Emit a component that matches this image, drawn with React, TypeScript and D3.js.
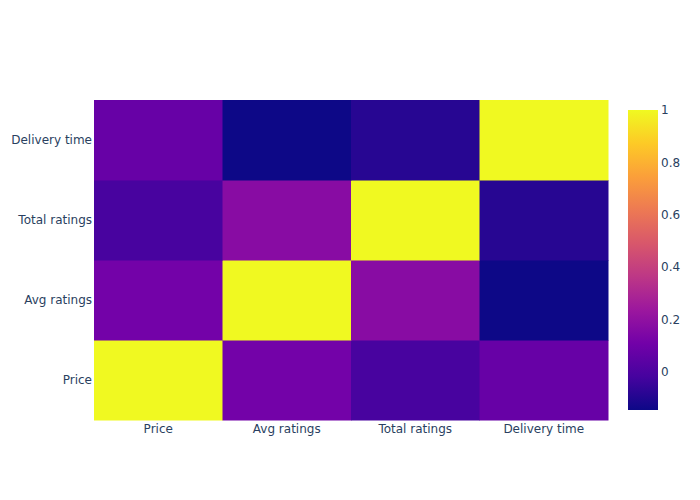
import { useEffect, useRef } from "react";
import * as d3 from "d3";

const labels = ["Price", "Avg ratings", "Total ratings", "Delivery time"];

// correlation rows, in the same order as labels
const priceRow = [1, 0.112, -0.014, 0.077];
const avgRow = [0.112, 1, 0.175, -0.146];
const totalRow = [-0.014, 0.175, 1, -0.089];
const deliveryRow = [0.077, -0.146, -0.089, 1];
const rows = [priceRow, avgRow, totalRow, deliveryRow];

const colorTicks = [0, 0.2, 0.4, 0.6, 0.8, 1];

const plasma = [
  "#0d0887", "#46039f", "#7201a8", "#9c179e", "#bd3786",
  "#d8576b", "#ed7953", "#fb9f3a", "#fdca26", "#f0f921",
];

export default function App() {
  const svgRef = useRef<SVGSVGElement>(null);

  useEffect(() => {
    const svg = d3.select(svgRef.current);
    svg.selectAll("*").remove();

    const W = 700, H = 500;
    const m = { left: 94, right: 92, top: 100, bottom: 80 };
    const font = '"DejaVu Sans", verdana, arial, sans-serif';
    const textColor = "#2a3f5f";

    const flat = rows.flat();
    const zmin = d3.min(flat)!;
    const zmax = d3.max(flat)!;

    const x = d3.scaleBand<string>().domain(labels).range([m.left, W - m.right]);
    const y = d3.scaleBand<string>().domain(labels).range([H - m.bottom, m.top]);

    const color = d3
      .scaleLinear<string>()
      .domain(plasma.map((_, i) => zmin + (i / (plasma.length - 1)) * (zmax - zmin)))
      .range(plasma)
      .interpolate(d3.interpolateRgb);

    const cells = rows.flatMap((row, i) =>
      row.map((v, j) => ({ r: labels[i], c: labels[j], v }))
    );

    svg.append("g")
      .selectAll("rect")
      .data(cells)
      .join("rect")
      .attr("x", (d) => x(d.c)!)
      .attr("y", (d) => y(d.r)!)
      .attr("width", x.bandwidth() + 0.5)
      .attr("height", y.bandwidth() + 0.5)
      .attr("fill", (d) => color(d.v));

    // x labels
    svg.append("g")
      .selectAll("text")
      .data(labels)
      .join("text")
      .attr("x", (d) => x(d)! + x.bandwidth() / 2)
      .attr("y", H - m.bottom + 13)
      .attr("text-anchor", "middle")
      .attr("font-family", font)
      .attr("font-size", 12)
      .attr("fill", textColor)
      .text((d) => d);

    // y labels
    svg.append("g")
      .selectAll("text")
      .data(labels)
      .join("text")
      .attr("x", m.left - 2)
      .attr("y", (d) => y(d)! + y.bandwidth() / 2)
      .attr("dy", "0.35em")
      .attr("text-anchor", "end")
      .attr("font-family", font)
      .attr("font-size", 12)
      .attr("fill", textColor)
      .text((d) => d);

    // colorbar
    const cbX = 628, cbW = 30, cbTop = 110, cbBottom = 410;
    const cb = d3.scaleLinear().domain([zmin, zmax]).range([cbBottom, cbTop]);

    const grad = svg.append("defs")
      .append("linearGradient")
      .attr("id", "cbgrad")
      .attr("x1", 0).attr("y1", 1).attr("x2", 0).attr("y2", 0);
    grad.selectAll("stop")
      .data(plasma)
      .join("stop")
      .attr("offset", (_, i) => i / (plasma.length - 1))
      .attr("stop-color", (d) => d);

    svg.append("rect")
      .attr("x", cbX)
      .attr("y", cbTop)
      .attr("width", cbW)
      .attr("height", cbBottom - cbTop)
      .attr("fill", "url(#cbgrad)");

    svg.append("g")
      .selectAll("text")
      .data(colorTicks)
      .join("text")
      .attr("x", cbX + cbW + 3)
      .attr("y", (d) => cb(d))
      .attr("dy", "0.35em")
      .attr("font-family", font)
      .attr("font-size", 12)
      .attr("fill", textColor)
      .text((d) => String(d));
  }, []);

  return (
    <div style={{ position: "absolute", left: 0, top: 0 }}>
      <svg ref={svgRef} width={700} height={500} style={{ display: "block", background: "#fff" }} />
    </div>
  );
}
